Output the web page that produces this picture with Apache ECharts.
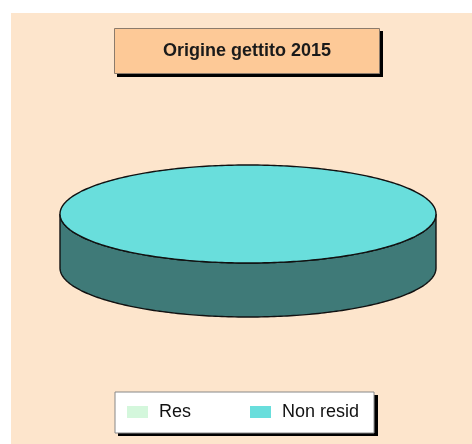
<!DOCTYPE html>
<html>
<head>
<meta charset="utf-8">
<script src="https://cdn.jsdelivr.net/npm/echarts@6/dist/echarts.min.js"></script>
<style>
html,body{margin:0;padding:0;background:#fff;}
#chart{width:472px;height:444px;}
</style>
</head>
<body>
<div id="chart"></div>
<script>
// ---- data ----
var titleText = 'Origine gettito 2015';
var categories = ['Res', 'Non resid'];
var values = [0, 100];
var topColors = ['#D4F7DC', '#69DEDC'];
var sideColors = ['#8FB89A', '#3F7A78'];

var chart = echarts.init(document.getElementById('chart'), null, {renderer: 'canvas'});

var CX = 248, CY = 214, RX = 188, RY = 49, DEPTH = 54;
var total = values.reduce(function (a, b) { return a + b; }, 0);

function pt(t, dy) {
  return [CX + RX * Math.cos(t), CY + RY * Math.sin(t) + (dy || 0)];
}
function arcPts(a, b, dy) {
  var pts = [], n = Math.max(2, Math.ceil(Math.abs(b - a) / (Math.PI / 180)));
  for (var i = 0; i <= n; i++) pts.push(pt(a + (b - a) * i / n, dy));
  return pts;
}

function makeRender(idx) {
  return function (params, api) {
    var v = api.value(0);
    if (!v || v <= 0) return {type: 'group', children: []};
    var prev = 0;
    for (var i = 0; i < idx; i++) prev += values[i];
    var a0 = -Math.PI / 2 + 2 * Math.PI * prev / total;
    var a1 = a0 + 2 * Math.PI * v / total;
    var children = [];
    for (var k = -1; k <= 2; k++) {
      var s = Math.max(a0, 2 * Math.PI * k), e = Math.min(a1, Math.PI + 2 * Math.PI * k);
      if (e > s) {
        var top = arcPts(s, e, 0);
        var bot = arcPts(e, s, DEPTH);
        children.push({
          type: 'polygon',
          shape: {points: top.concat(bot)},
          style: {fill: sideColors[idx], stroke: '#111', lineWidth: 1.4}
        });
      }
    }
    var full = (a1 - a0) >= 2 * Math.PI - 1e-9;
    var tp = arcPts(a0, a1, 0);
    if (!full) tp.push([CX, CY]);
    children.push({
      type: 'polygon',
      shape: {points: tp},
      style: {fill: topColors[idx], stroke: '#111', lineWidth: 1.4}
    });
    return {type: 'group', children: children};
  };
}

var series = categories.map(function (name, i) {
  return {
    type: 'custom',
    name: name,
    coordinateSystem: 'none',
    renderItem: makeRender(i),
    itemStyle: {color: topColors[i]},
    data: [[values[i]]],
    silent: true,
    animation: false
  };
});

chart.setOption({
  animation: false,
  color: topColors,
  graphic: [{
    type: 'rect', left: 11, top: 13, z: -10,
    shape: {width: 461, height: 431},
    style: {fill: '#FDE5CC'}
  }, {
    type: 'rect', left: 117, top: 31, z: 1,
    shape: {width: 266, height: 46},
    style: {fill: '#000'}
  }, {
    type: 'rect', left: 118, top: 395, z: 1,
    shape: {width: 260, height: 41},
    style: {fill: '#000'}
  }],
  title: {
    text: titleText,
    left: 114, top: 28,
    padding: [12, 49],
    backgroundColor: '#FDC997',
    borderColor: '#8C7B6B',
    borderWidth: 1,
    textStyle: {fontFamily: 'Liberation Sans', fontSize: 18, fontWeight: 'bold', color: '#1a1a1a', lineHeight: 22}
  },
  legend: {
    data: categories,
    left: 115, top: 392,
    orient: 'horizontal',
    icon: 'rect',
    itemWidth: 21, itemHeight: 12,
    itemGap: 59,
    padding: [9, 15, 10, 12],
    backgroundColor: '#fff',
    borderColor: '#888',
    borderWidth: 1,
    selectedMode: false,
    textStyle: {fontFamily: 'Liberation Sans', fontSize: 18, color: '#111', lineHeight: 22, padding: [0, 0, 0, 6]}
  },
  series: series
});
</script>
</body>
</html>
